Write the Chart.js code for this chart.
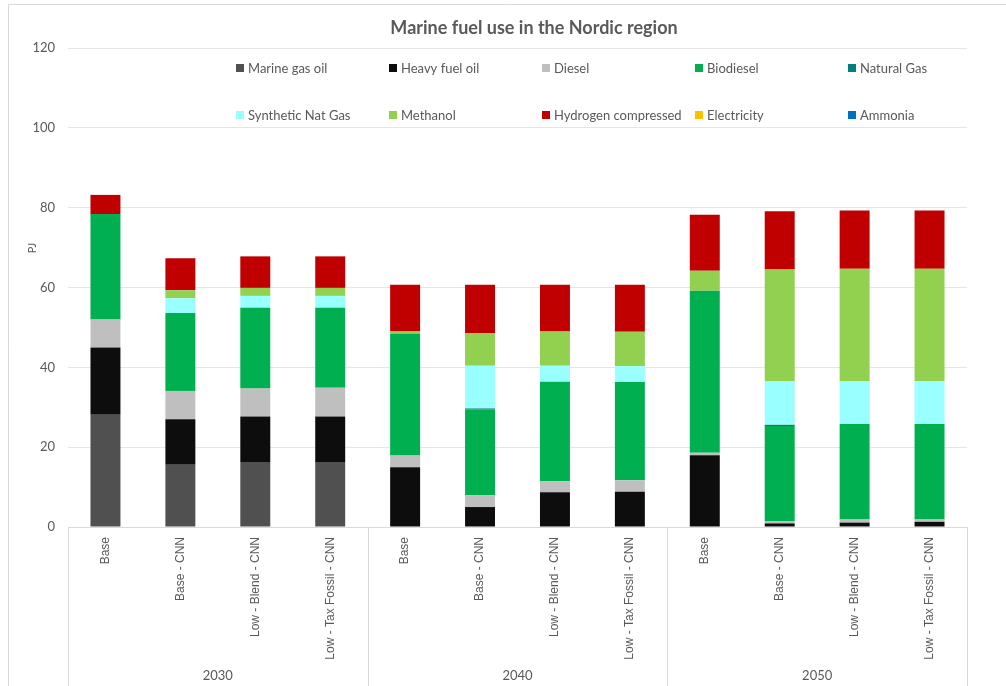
<!DOCTYPE html>
<html>
<head>
<meta charset="utf-8">
<script src="https://cdn.jsdelivr.net/npm/chart.js"></script>
<style>
  body { margin: 0; background: #fff; }
</style>
</head>
<body>
<canvas id="fuelChart" width="1006" height="686"></canvas>
<script>
// DATA
const categories = [
  'Base', 'Base - CNN', 'Low - Blend - CNN', 'Low - Tax Fossil - CNN',
  'Base', 'Base - CNN', 'Low - Blend - CNN', 'Low - Tax Fossil - CNN',
  'Base', 'Base - CNN', 'Low - Blend - CNN', 'Low - Tax Fossil - CNN'
];
const years = ['2030', '2040', '2050'];
const yTicks = [0, 20, 40, 60, 80, 100, 120];

const marineGasOil = [28.1, 15.6, 16.3, 16.3, 0, 0, 0, 0, 0, 0, 0, 0];
const heavyFuelOil = [16.9, 11.4, 11.4, 11.4, 15.0, 5.0, 8.7, 8.8, 18.0, 0.9, 1.1, 1.3];
const diesel = [7.0, 7.1, 7.0, 7.2, 2.9, 3.0, 2.8, 2.9, 0.6, 0.6, 0.8, 0.6];
const biodiesel = [26.4, 19.5, 20.2, 20.0, 30.6, 21.4, 24.9, 24.6, 40.6, 23.8, 23.9, 23.9];
const naturalGas = [0, 0, 0, 0, 0, 0.3, 0, 0, 0, 0.3, 0, 0];
const syntheticNatGas = [0, 3.7, 3.0, 3.0, 0, 10.7, 4.0, 4.0, 0, 11.0, 10.8, 10.8];
const methanol = [0, 2.0, 2.0, 2.0, 0.5, 8.2, 8.6, 8.6, 5.0, 27.9, 28.1, 28.1];
const hydrogen = [4.8, 8.0, 7.9, 7.9, 11.7, 12.1, 11.7, 11.8, 14.0, 14.6, 14.6, 14.6];
const electricity = [0, 0, 0, 0, 0, 0, 0, 0, 0, 0, 0, 0];
const ammonia = [0, 0, 0, 0, 0, 0, 0, 0, 0, 0, 0, 0];

const textColor = '#595959';

const data = {
  labels: categories,
  datasets: [
    { label: 'Marine gas oil', data: marineGasOil, backgroundColor: '#505050' },
    { label: 'Heavy fuel oil', data: heavyFuelOil, backgroundColor: '#0d0d0d' },
    { label: 'Diesel', data: diesel, backgroundColor: '#bfbfbf' },
    { label: 'Biodiesel', data: biodiesel, backgroundColor: '#00b050' },
    { label: 'Natural Gas', data: naturalGas, backgroundColor: '#00807c' },
    { label: 'Synthetic Nat Gas', data: syntheticNatGas, backgroundColor: '#99ffff' },
    { label: 'Methanol', data: methanol, backgroundColor: '#92d050' },
    { label: 'Hydrogen compressed', data: hydrogen, backgroundColor: '#c00000' },
    { label: 'Electricity', data: electricity, backgroundColor: '#ffc000' },
    { label: 'Ammonia', data: ammonia, backgroundColor: '#0070c0' }
  ]
};

// title, legend, PJ, year groups, frame
const extras = {
  id: 'extras',
  beforeDraw(chart) {
    const ctx = chart.ctx;
    ctx.save();
    ctx.strokeStyle = '#d9d9d9';
    ctx.lineWidth = 1;
    ctx.beginPath();
    ctx.moveTo(8.5, 686);
    ctx.lineTo(8.5, 4.5);
    ctx.lineTo(1006, 4.5);
    ctx.stroke();
    ctx.restore();
  },
  afterDraw(chart) {
    const ctx = chart.ctx;
    const area = chart.chartArea;
    const x = chart.scales.x;
    ctx.save();

    // title
    ctx.fillStyle = textColor;
    ctx.font = 'bold 18px Lato';
    ctx.textAlign = 'center';
    ctx.textBaseline = 'middle';
    ctx.fillText('Marine fuel use in the Nordic region', 534, 28);

    // axis title
    ctx.save();
    ctx.translate(32, 248);
    ctx.rotate(-Math.PI / 2);
    ctx.font = '11px Lato';
    ctx.fillText('PJ', 0, 0);
    ctx.restore();

    // legend
    const cols = [236, 389, 542, 695, 848];
    const rows = [68, 115];
    ctx.font = '13px Lato';
    ctx.textAlign = 'left';
    chart.data.datasets.forEach(function(ds, i) {
      const lx = cols[i % 5];
      const ly = rows[Math.floor(i / 5)];
      ctx.fillStyle = ds.backgroundColor;
      ctx.fillRect(lx, ly - 4, 8, 8);
      ctx.fillStyle = textColor;
      ctx.fillText(ds.label, lx + 12, ly + 1);
    });

    // year groups
    const step = (x.getPixelForValue(1) - x.getPixelForValue(0));
    ctx.strokeStyle = '#d9d9d9';
    ctx.lineWidth = 1;
    ctx.font = '13px Lato';
    ctx.textAlign = 'center';
    ctx.fillStyle = textColor;
    years.forEach(function(yr, g) {
      const left = x.getPixelForValue(g * 4) - step / 2;
      const right = x.getPixelForValue(g * 4 + 3) + step / 2;
      ctx.beginPath();
      ctx.moveTo(Math.round(left) + 0.5, area.bottom);
      ctx.lineTo(Math.round(left) + 0.5, 686);
      ctx.moveTo(Math.round(right) + 0.5, area.bottom);
      ctx.lineTo(Math.round(right) + 0.5, 686);
      ctx.stroke();
      ctx.fillText(yr, (left + right) / 2, 676);
    });
    ctx.restore();
  }
};

const config = {
  type: 'bar',
  data,
  options: {
    responsive: false,
    animation: false,
    layout: {
      padding: { top: 48, right: 39, left: 0, bottom: 0 }
    },
    datasets: {
      bar: {
        categoryPercentage: 1,
        barPercentage: 0.4,
        borderWidth: 0
      }
    },
    scales: {
      x: {
        stacked: true,
        grid: { display: false, drawTicks: false },
        border: { color: '#d9d9d9' },
        ticks: {
          autoSkip: false,
          minRotation: 90,
          maxRotation: 90,
          padding: 10,
          color: textColor,
          font: { family: 'Liberation Sans', size: 12 }
        },
        afterFit: function(scale) { scale.height = 159; }
      },
      y: {
        stacked: true,
        min: 0,
        max: 120,
        afterBuildTicks: function(scale) {
          scale.ticks = yTicks.map(function(v) { return { value: v }; });
        },
        grid: { color: '#e6e6e6', drawTicks: false },
        border: { display: false },
        ticks: {
          padding: 13,
          color: textColor,
          font: { family: 'Lato', size: 13 }
        },
        afterFit: function(scale) { scale.width = 68; }
      }
    },
    plugins: {
      legend: { display: false },
      title: { display: false },
      tooltip: { enabled: false }
    }
  },
  plugins: [extras]
};

const myChart = new Chart(document.getElementById('fuelChart'), config);
</script>
</body>
</html>
